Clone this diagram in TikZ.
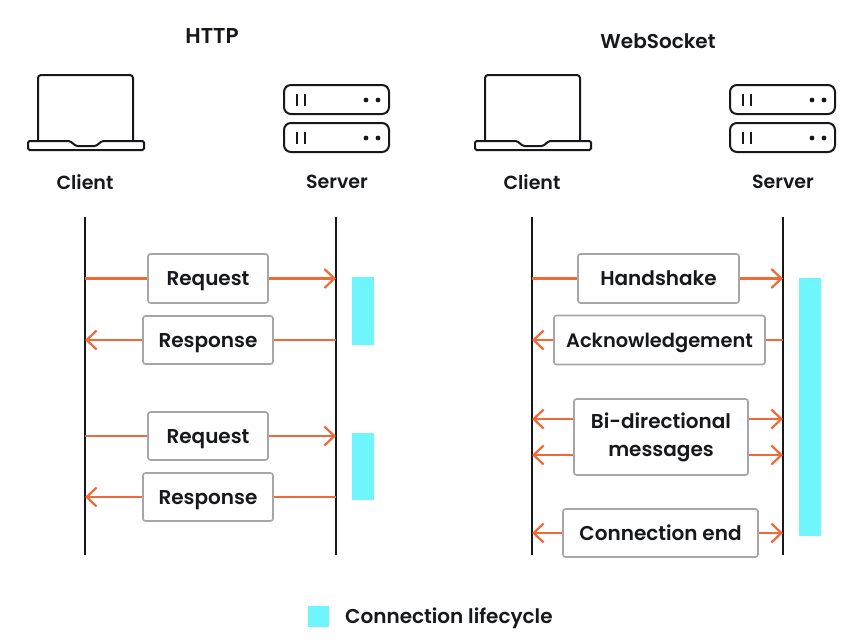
\documentclass[tikz,border=0pt]{standalone}
\usepackage{fontspec}
\setmainfont{Poppins}[UprightFont=*-SemiBold,BoldFont=*-SemiBold]
\usetikzlibrary{arrows.meta}
\definecolor{wire}{HTML}{F0693A}
\definecolor{life}{HTML}{6FF6FC}
\definecolor{ink}{HTML}{17181C}
\tikzset{
  msgbox/.style={draw=black!35, line width=1.6pt, rounded corners=2.5pt, fill=white, font=\fontsize{20}{28}\selectfont, text=ink, align=center, inner sep=0pt},
  oneline/.style={text height=18pt, text depth=4pt},
  msg/.style={draw=wire, line width=2.2pt, -{Straight Barb[length=10pt,width=19pt,line width=2.2pt]}},
  msgline/.style={draw=wire, line width=2.2pt},
  lifeline/.style={draw=ink, line width=2pt},
  caption/.style={font=\fontsize{19}{24}\selectfont, text=ink},
  heading/.style={font=\fontsize{20}{24}\selectfont, text=ink},
  icon/.style={draw=ink, line width=2pt},
  bar/.style={fill=life, draw=none},
  laptop/.pic={
    \draw[icon, rounded corners=3pt] (38,140) -- (38,75) -- (133,75) -- (133,140);
    \draw[icon, rounded corners=1.5pt] (28,141) -- (70,141) -- (76,146) -- (96,146) -- (102,141) -- (144,141) -- (144,150) -- (28,150) -- cycle;
  },
  rack/.pic={
    \draw[icon, rounded corners=7pt] (284,85) rectangle (389,114);
    \draw[icon, line width=1.7pt] (297,94) -- (297,106) (305,94) -- (305,106);
    \fill[ink] (366,100) circle (2.4pt) (378,100) circle (2.4pt);
  }
}
\begin{document}
\begin{tikzpicture}[x=1pt, y=-1pt]
\useasboundingbox (0,0) rectangle (861,641);

% headings and icons
\node[heading, font=\fontsize{21.5}{24}\selectfont] (httpT) at (212,36) {HTTP};
\node[heading] (wsT) at (658,41) {WebSocket};
\pic at (0,0) {laptop};
\pic at (0,0) {rack};
\pic at (0,38) {rack};
\pic at (447,0) {laptop};
\pic at (446,0) {rack};
\pic at (446,38) {rack};
\node[caption] (clientA) at (85,182) {Client};
\node[caption] (serverA) at (337,182) {Server};
\node[caption] (clientB) at (532,182) {Client};
\node[caption] (serverB) at (783,182) {Server};

% lifelines
\coordinate (ctA) at (85,217);  \coordinate (cbA) at (85,555);
\coordinate (stA) at (336,217); \coordinate (sbA) at (336,555);
\coordinate (ctB) at (532,217); \coordinate (cbB) at (532,555);
\coordinate (stB) at (783,217); \coordinate (sbB) at (783,555);
\draw[lifeline] (ctA) -- (cbA);
\draw[lifeline] (stA) -- (sbA);
\draw[lifeline] (ctB) -- (cbB);
\draw[lifeline] (stB) -- (sbB);

% connection bars
\fill[bar] (352,277) rectangle (374,345);
\fill[bar] (352,433) rectangle (374,500);
\fill[bar] (799,278) rectangle (821,536);

% HTTP exchange
\node[msgbox, oneline, minimum width=120pt, minimum height=49pt] (reqA) at (208,278.5) {Request};
\node[msgbox, oneline, minimum width=130pt, minimum height=48pt] (resA) at (208,340) {Response};
\node[msgbox, oneline, minimum width=120pt, minimum height=48pt] (reqB) at (208,436) {Request};
\node[msgbox, oneline, minimum width=130pt, minimum height=48pt] (resB) at (208,497) {Response};
\draw[msgline] (reqA.west -| ctA) -- (reqA.west);
\draw[msg] (reqA.east) -- (reqA.east -| stA);
\draw[msgline] (resA.east -| stA) -- (resA.east);
\draw[msg] (resA.west) -- (resA.west -| ctA);
\draw[msgline] (reqB.west -| ctA) -- (reqB.west);
\draw[msg] (reqB.east) -- (reqB.east -| stA);
\draw[msgline] (resB.east -| stA) -- (resB.east);
\draw[msg] (resB.west) -- (resB.west -| ctA);

% WebSocket exchange
\node[msgbox, oneline, minimum width=161pt, minimum height=49pt] (shake) at (658.5,278.5) {Handshake};
\node[msgbox, oneline, font=\fontsize{19.4}{28}\selectfont, minimum width=211pt, minimum height=49pt] (ack) at (659.5,340) {Acknowledgement};
\node[msgbox, minimum width=174pt, minimum height=76pt] (bidi) at (661,437) {Bi-directional\\messages};
\node[msgbox, oneline, minimum width=195pt, minimum height=48pt] (close) at (660.5,533) {Connection end};
\coordinate (bidiU) at (0,419);
\coordinate (bidiD) at (0,455);
\draw[msgline] (shake.west -| ctB) -- (shake.west);
\draw[msg] (shake.east) -- (shake.east -| stB);
\draw[msgline] (ack.east -| stB) -- (ack.east);
\draw[msg] (ack.west) -- (ack.west -| ctB);
\draw[msg] (bidi.west |- bidiU) -- (bidiU -| ctB);
\draw[msg] (bidi.east |- bidiU) -- (bidiU -| stB);
\draw[msg] (bidi.west |- bidiD) -- (bidiD -| ctB);
\draw[msg] (bidi.east |- bidiD) -- (bidiD -| stB);
\draw[msg] (close.west) -- (close.west -| ctB);
\draw[msg] (close.east) -- (close.east -| stB);

% legend
\node[bar, minimum width=21pt, minimum height=21pt, inner sep=0pt] (key) at (318.5,616.5) {};
\node[caption, font=\fontsize{20}{24}\selectfont, anchor=base west, inner sep=0pt] (keyT) at (345,623.5) {Connection lifecycle};
\end{tikzpicture}
\end{document}
